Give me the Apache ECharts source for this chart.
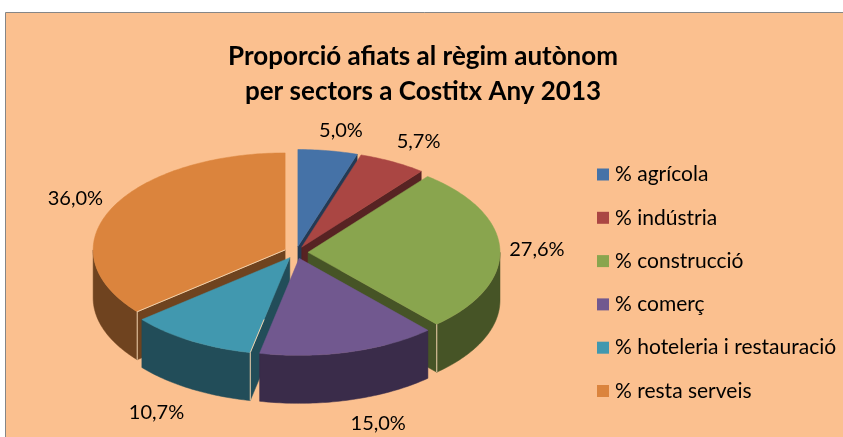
<!DOCTYPE html>
<html>
<head>
<meta charset="utf-8">
<style>
  html, body { margin: 0; padding: 0; background: #fff; overflow: hidden; }
  #chart { width: 843px; height: 437px; }
</style>
<script src="https://cdn.jsdelivr.net/npm/echarts@6/dist/echarts.min.js"></script>
</head>
<body>
<div id="chart"></div>
<script>
var categories = ['% agrícola', '% indústria', '% construcció', '% comerç', '% hoteleria i restauració', '% resta serveis'];
var values = [5.0, 5.7, 27.6, 15.0, 10.7, 36.0];
var labels = ['5,0%', '5,7%', '27,6%', '15,0%', '10,7%', '36,0%'];
var topColors = ['#4572A7', '#AA4643', '#89A54E', '#71588F', '#4198AF', '#DB843D'];
var sideColors = ['#233A55', '#572323', '#465426', '#3A2C4A', '#224D59', '#6F431F'];
// distance of each label from the middle of its slice rim
var labelNudge = [[13, -20], [26, -20], [37, 0], [29, 72], [-34, 72], [-36, -10]];
// how far the light line runs in from the rim along a slice's first edge
var edgeRun = [0, 0, 0, 0, 0.35, 1];

// pie geometry
var cx = 296, cy = 252.5, rx = 192, ry = 97, depth = 48, explode = 12;
var edgeColor = '#F0D2AE';

var chart = echarts.init(document.getElementById('chart'));

var total = 0;
values.forEach(function (v) { total += v; });

function rad(deg) {
    return deg * Math.PI / 180;
}
// angle in degrees, clockwise from the top
function rimPoint(ox, oy, deg, down) {
    return [ox + rx * Math.sin(rad(deg)), oy - ry * Math.cos(rad(deg)) + (down || 0)];
}
function arcPoints(ox, oy, from, to, down) {
    var pts = [];
    var n = Math.max(2, Math.ceil(to - from));
    for (var i = 0; i <= n; i++) {
        pts.push(rimPoint(ox, oy, from + (to - from) * i / n, down));
    }
    return pts;
}
function poly(points, color, z2) {
    return { type: 'polygon', z2: z2, shape: { points: points }, style: { fill: color, stroke: color, lineWidth: 0.5 } };
}
function edge(a, b, z2) {
    return { type: 'line', z2: z2, shape: { x1: a[0], y1: a[1], x2: b[0], y2: b[1] }, style: { stroke: edgeColor, lineWidth: 1 } };
}

function sliceRenderer(index) {
    return function () {
        var before = 0;
        for (var i = 0; i < index; i++) before += values[i];
        var start = before / total * 360;
        var end = (before + values[index]) / total * 360;
        var mid = (start + end) / 2;
        var ox = cx + explode * Math.sin(rad(mid));
        var oy = cy - explode * (ry / rx) * Math.cos(rad(mid));
        // slices further back are painted first
        var z = Math.round((1 - Math.cos(rad(mid))) * 20);
        var side = sideColors[index];
        var kids = [];

        // cut faces
        if (start > 180) {
            var s = rimPoint(ox, oy, start);
            kids.push(poly([[ox, oy], s, [s[0], s[1] + depth], [ox, oy + depth]], side, z));
        }
        if (end < 180) {
            var e = rimPoint(ox, oy, end);
            kids.push(poly([[ox, oy], e, [e[0], e[1] + depth], [ox, oy + depth]], side, z));
        }
        // outer wall, only the part that faces the viewer
        var wallFrom = Math.max(start, 90), wallTo = Math.min(end, 270);
        if (wallFrom < wallTo) {
            var wall = arcPoints(ox, oy, wallFrom, wallTo, 0)
                .concat(arcPoints(ox, oy, wallFrom, wallTo, depth).reverse());
            kids.push(poly(wall, side, z + 1));
        }
        // top
        kids.push(poly([[ox, oy]].concat(arcPoints(ox, oy, start, end, 0)), topColors[index], z + 2));
        // thin light edges where a wall meets a cut face
        if (start > 180 && start < 270) {
            var p = rimPoint(ox, oy, start);
            var run = edgeRun[index];
            kids.push(edge(p, [p[0], p[1] + depth], z + 3));
            kids.push(edge(p, [p[0] + (ox - p[0]) * run, p[1] + (oy - p[1]) * run], z + 3));
        }
        if (end < 180 && end > 90) {
            var q = rimPoint(ox, oy, end);
            kids.push(edge(q, [q[0], q[1] + depth], z + 3));
        }
        // label
        var anchor = rimPoint(ox, oy, mid);
        kids.push({
            type: 'text',
            z2: 100,
            style: {
                x: anchor[0] + labelNudge[index][0],
                y: anchor[1] + labelNudge[index][1],
                text: labels[index],
                fill: '#000',
                font: '20px Lato',
                align: 'center',
                verticalAlign: 'middle'
            }
        });
        return { type: 'group', children: kids };
    };
}

var series = categories.map(function (name, i) {
    return {
        type: 'custom',
        name: name,
        coordinateSystem: 'none',
        silent: true,
        animation: false,
        itemStyle: { color: topColors[i] },
        data: [values[i]],
        renderItem: sliceRenderer(i)
    };
});

chart.setOption({
    animation: false,
    backgroundColor: '#fff',
    graphic: [{
        type: 'rect',
        z: -10,
        shape: { x: 5.5, y: 12.5, width: 860, height: 440 },
        style: { fill: '#FBC08F', stroke: '#868686', lineWidth: 1 },
        silent: true
    }],
    title: {
        text: 'Proporció afiats al règim autònom\nper sectors a Costitx Any 2013',
        left: 418,
        top: 34,
        textAlign: 'center',
        textStyle: { fontFamily: 'Lato', fontSize: 26, fontWeight: 'bold', color: '#000', lineHeight: 35 }
    },
    legend: {
        orient: 'vertical',
        left: 592,
        top: 159,
        itemWidth: 12,
        itemHeight: 12,
        itemGap: 22.3,
        icon: 'rect',
        selectedMode: false,
        data: categories,
        textStyle: { fontFamily: 'Lato', fontSize: 21, color: '#000', padding: [0, 0, 0, 1], lineHeight: 18 }
    },
    series: series
});
</script>
</body>
</html>
